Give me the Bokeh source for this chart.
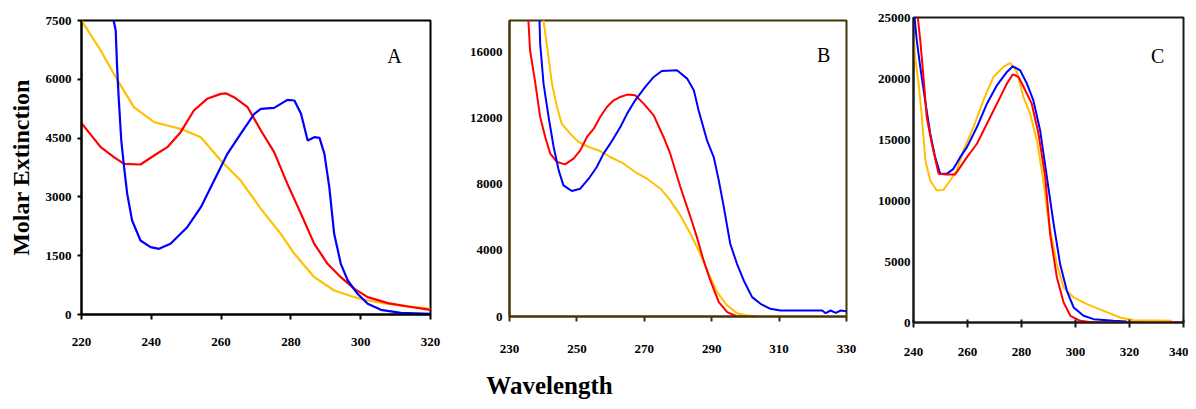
from bokeh.plotting import figure
from bokeh.layouts import row, column
from bokeh.models import FixedTicker, Label, Range1d
from bokeh.core.properties import value
from bokeh.embed import file_html
from bokeh.resources import INLINE

# ---------------- Panel A data ----------------
a_yellow_x = [220, 225.5, 229.8, 235, 240.8, 244.6, 248.4, 254.2, 259.9, 265.6, 271.4, 277.1, 281, 286.7, 292.4, 298.2, 302, 307.8, 320]
a_yellow_y = [7500, 6735, 6054, 5289, 4906, 4821, 4736, 4523, 3928, 3418, 2695, 2058, 1548, 952, 612, 442, 357, 272, 145]

a_red_x = [220, 225.5, 229.3, 232.2, 236.9, 240.8, 244.6, 248.4, 252.2, 256, 259.9, 261.5, 263.7, 267.6, 271.4, 275.2, 279, 282.9, 286.7, 290.5, 294.3, 298.2, 302, 307.8, 313.5, 320]
a_red_y = [4881, 4269, 4014, 3844, 3827, 4056, 4269, 4651, 5204, 5502, 5629, 5640, 5544, 5289, 4694, 4141, 3333, 2568, 1803, 1293, 952, 655, 442, 289, 204, 119]

a_blue_x = [229.2, 229.8, 230.2, 230.7, 231.4, 232.2, 233.1, 234.5, 236.9, 239.8, 242.2, 245.5, 250.3, 254.2, 258, 261.8, 265.6, 269.5, 271.4, 275.2, 279, 281, 282.9, 284.8, 286.7, 288.2, 289.6, 291, 292.4, 294.3, 296.3, 299.1, 302, 305.8, 311.5, 320]
a_blue_y = [7500, 7245, 6310, 5459, 4439, 3758, 3078, 2398, 1888, 1718, 1675, 1803, 2228, 2738, 3418, 4099, 4609, 5119, 5247, 5272, 5476, 5459, 5119, 4439, 4524, 4507, 4099, 3248, 2058, 1293, 867, 527, 272, 119, 43, 17]

# ---------------- Panel B data ----------------
b_red_x = [235.4, 235.6, 236.1, 237.6, 239.1, 240.6, 242.1, 244.1, 246.5, 249, 251, 253, 255, 256.9, 258.9, 260.9, 262.9, 264.9, 267.3, 269.8, 272.8, 275.7, 277.7, 280.7, 283.7, 285.6, 287.6, 289.6, 292.1, 294.6, 297.5, 303.5]
b_red_y = [18500, 17900, 16100, 14185, 12066, 10856, 9847, 9342, 9201, 9544, 10049, 10856, 11360, 12066, 12672, 13075, 13277, 13418, 13378, 12873, 12167, 10856, 9847, 7829, 6013, 4802, 3390, 2179, 868, 262, 0, 0]

b_blue_x = [238.8, 238.9, 239.1, 240.1, 241.6, 243.1, 244.6, 246, 248.5, 251, 253.5, 255.9, 257.9, 259.9, 262.9, 264.9, 267.3, 270.3, 272.8, 275.2, 279.7, 282.7, 284.7, 286.1, 288.6, 290.6, 292.1, 293.6, 295.5, 297.5, 299.5, 302, 304.5, 307.4, 310.4, 314.4, 322.8, 323.8, 325.3, 326.8, 328.3, 330]
b_blue_y = [18500, 17900, 16500, 14085, 12066, 10250, 8838, 7930, 7587, 7728, 8333, 9039, 9847, 10452, 11461, 12268, 13075, 13882, 14487, 14850, 14890, 14386, 13680, 12470, 10654, 9645, 8233, 6618, 4399, 3188, 2179, 1170, 767, 464, 363, 363, 363, 202, 363, 222, 363, 323]

b_yellow_x = [239.8, 240.1, 241.3, 242.6, 244.1, 245.5, 248, 250.5, 253.5, 256.9, 259.9, 263.9, 267.3, 270.8, 274.8, 277.7, 280.7, 283.7, 286.6, 289.1, 291.6, 294.6, 297.5, 300.5, 304.5, 330]
b_yellow_y = [18500, 17900, 16100, 14085, 12672, 11663, 11057, 10553, 10250, 10008, 9645, 9241, 8737, 8333, 7728, 7022, 6114, 5004, 3793, 2583, 1473, 666, 202, 60, 0, 0]

# ---------------- Panel C data ----------------
c_yellow_x = [240, 240.6, 241.9, 243.1, 244.4, 246.2, 248.6, 251.1, 253.6, 256, 258.5, 262.2, 265.9, 269.6, 273.3, 275.8, 278.3, 280.7, 283.2, 285.7, 288.1, 290, 293.1, 295.6, 299.3, 304.2, 310.4, 316.5, 321.5, 335.7]
c_yellow_y = [23685, 21769, 19578, 16840, 13280, 11637, 10816, 10871, 11637, 12459, 14102, 16019, 18209, 20126, 20948, 21276, 20537, 18483, 17114, 14924, 11637, 8352, 4792, 2875, 2054, 1506, 958, 411, 192, 137]

c_blue_x = [240.2, 240.4, 241.2, 242.5, 244.3, 246.2, 248, 249.9, 252.3, 254.8, 257.3, 259.8, 263.5, 267.2, 270.9, 274.6, 276.8, 279.5, 282, 284.4, 286.9, 289.4, 291.9, 294.3, 296.8, 299.3, 303, 306.7, 314.1, 319]
c_blue_y = [26000, 25000, 23138, 20947, 18209, 15471, 13554, 12185, 12185, 12596, 13554, 14376, 16019, 17936, 19442, 20537, 21002, 20674, 19579, 18209, 15745, 11911, 8078, 4792, 2601, 1232, 548, 274, 137, 82]

c_red_x = [241.5, 241.6, 242.5, 243.7, 244.9, 246.8, 249.3, 252.3, 255.4, 257.3, 259.8, 263.5, 267.2, 270.9, 274.6, 276.8, 278.9, 281.4, 283.8, 286.3, 288.8, 290.6, 293.1, 295.6, 298.1, 301.7, 306.7, 340]
c_red_y = [26000, 25000, 23138, 20126, 16840, 14650, 12185, 12130, 12130, 12733, 13554, 14650, 16293, 17936, 19579, 20345, 20126, 19031, 17936, 15471, 11911, 7256, 3697, 1643, 548, 137, 0, 0]

# ---------------- axes / labels ----------------
a_xticks = [220, 240, 260, 280, 300, 320]
a_yticks = [0, 1500, 3000, 4500, 6000, 7500]
b_xticks = [230, 250, 270, 290, 310, 330]
b_yticks = [0, 4000, 8000, 12000, 16000]
c_xticks = [240, 260, 280, 300, 320, 340]
c_yticks = [0, 5000, 10000, 15000, 20000, 25000]

y_title = "Molar Extinction"
x_title = "Wavelength"

BLUE = "#0000FF"
RED = "#FF0000"
YELLOW = "#FFC000"
SERIF = "Liberation Serif"
ROW_H = 370


def make_fig(width, xr, yr, bl, br, bt, bb, xticks, yticks, axis_color, x_standoff, y_standoff, y_tick_out, x_tick_in):
    p = figure(width=width, height=ROW_H, x_range=Range1d(*xr), y_range=Range1d(*yr),
               output_backend="svg", toolbar_location=None,
               min_border_left=bl, min_border_right=br, min_border_top=bt, min_border_bottom=bb)
    p.frame_align = False
    p.grid.visible = False
    p.background_fill_color = "white"
    p.border_fill_color = "white"
    p.outline_line_color = axis_color
    p.outline_line_width = 2
    for ax in (p.xaxis[0], p.yaxis[0]):
        ax.axis_line_color = axis_color
        ax.axis_line_width = 2
        ax.major_tick_line_color = axis_color
        ax.major_tick_line_width = 2
        ax.minor_tick_line_color = None
        ax.major_label_text_font = SERIF
        ax.major_label_text_font_style = "bold"
        ax.major_label_text_font_size = "13px"
        ax.major_label_text_color = "black"
    p.xaxis.ticker = FixedTicker(ticks=xticks)
    p.yaxis.ticker = FixedTicker(ticks=yticks)
    p.xaxis.major_tick_out = 5
    p.xaxis.major_tick_in = x_tick_in
    p.yaxis.major_tick_out = y_tick_out
    p.yaxis.major_tick_in = 0
    p.xaxis.major_label_standoff = x_standoff
    p.yaxis.major_label_standoff = y_standoff
    return p


pa = make_fig(448, (220, 320), (0, 7500), 81, 18, 20, ROW_H - 314, a_xticks, a_yticks, "black", 18, 6, 4, 0)
pa.line(a_yellow_x, a_yellow_y, line_color=YELLOW, line_width=2.2)
pa.line(a_red_x, a_red_y, line_color=RED, line_width=2.2)
pa.line(a_blue_x, a_blue_y, line_color=BLUE, line_width=2.2)
pa.add_layout(Label(x=309.7, y=6607, text="A", text_font=SERIF, text_font_size="20px",
                    text_align="center", text_baseline="middle", text_color="black"))
pa.yaxis.axis_label = y_title
pa.yaxis.axis_label_text_font = SERIF
pa.yaxis.axis_label_text_font_style = "bold"
pa.yaxis.axis_label_text_font_size = "24px"
pa.yaxis.axis_label_text_color = "black"
pa.yaxis.axis_label_standoff = 9

pb = make_fig(410, (230, 330), (0, 17900), 61, 12, 20, ROW_H - 316, b_xticks, b_yticks, "#3f3508", 23, 7, 0, 0)
pb.line(b_yellow_x, b_yellow_y, line_color=YELLOW, line_width=2)
pb.line(b_red_x, b_red_y, line_color=RED, line_width=2)
pb.line(b_blue_x, b_blue_y, line_color=BLUE, line_width=2)
pb.add_layout(Label(x=323.2, y=15843, text="B", text_font=SERIF, text_font_size="20px",
                    text_align="center", text_baseline="middle", text_color="black"))

pc = make_fig(330, (240, 340), (0, 25000), 55, 5, 17, ROW_H - 322, c_xticks, c_yticks, "#1a1a1a", 20, 3, 0, 3)
pc.line(c_yellow_x, c_yellow_y, line_color=YELLOW, line_width=2)
pc.line(c_blue_x, c_blue_y, line_color=BLUE, line_width=2)
pc.line(c_red_x, c_red_y, line_color=RED, line_width=2)
pc.add_layout(Label(x=330.4, y=21885, text="C", text_font=SERIF, text_font_size="20px",
                    text_align="center", text_baseline="middle", text_color="black"))

# bottom strip holding the shared x title
STRIP_H = 31
pt = figure(width=1188, height=STRIP_H, x_range=Range1d(0, 1188), y_range=Range1d(0, STRIP_H),
            output_backend="svg", toolbar_location=None,
            min_border_left=0, min_border_right=0, min_border_top=0, min_border_bottom=0)
pt.axis.visible = False
pt.grid.visible = False
pt.outline_line_color = None
pt.text(x=[549], y=[16], text=[x_title], text_font=value(SERIF), text_font_style="bold",
        text_font_size="25px", text_align="center", text_baseline="alphabetic", text_color="black")

layout = column(row(pa, pb, pc), pt)
open("out.html", "w").write(file_html(layout, INLINE))
